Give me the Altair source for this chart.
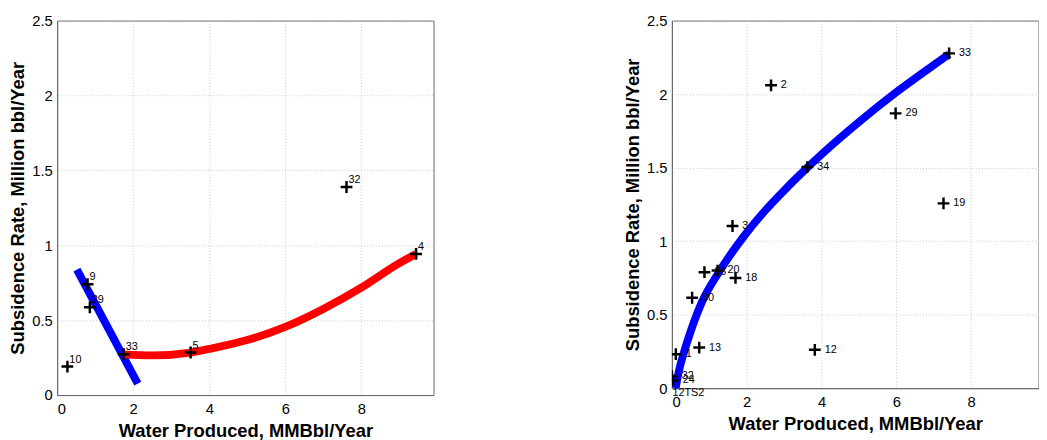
import altair as alt
import pandas as pd

# ---- Left panel data ----
left_x = [0.27, 0.80, 0.86, 1.75, 3.51, 7.61, 9.44]
left_y = [0.19, 0.74, 0.586, 0.273, 0.284, 1.389, 0.942]
left_lab = ["10", "9", "29", "33", "5", "32", "4"]

blue_seg_x = [0.52, 2.12]
blue_seg_y = [0.837, 0.076]

red_x = [1.75, 2.5, 3.51, 4.0, 5.0, 6.0, 7.0, 8.0, 9.0, 9.44]
red_y = [0.272, 0.265, 0.284, 0.308, 0.367, 0.455, 0.575, 0.717, 0.881, 0.942]

# ---- Right panel data ----
right_x = [2.65, 7.41, 5.98, 3.62, 7.26, 1.62, 0.87, 1.22, 1.70, 0.54, 0.73, 3.82, 0.105, 0.0, 0.03, -0.25]
right_y = [2.06, 2.277, 1.869, 1.504, 1.257, 1.103, 0.789, 0.80, 0.75, 0.615, 0.276, 0.261, 0.231, 0.082, 0.053, -0.03]
right_lab = ["2", "33", "29", "34", "19", "3", "26", "20", "18", "30", "13", "12", "1", "32", "24", "12TS2"]

fit_x = [0.10, 0.19, 0.33, 0.52, 0.81, 1.26, 1.93, 2.5, 3.0, 3.62, 4.0, 5.0, 6.0, 7.0, 7.41]
fit_y = [0.0, 0.12, 0.25, 0.40, 0.59, 0.79, 1.035, 1.21, 1.345, 1.50, 1.59, 1.81, 2.013, 2.198, 2.272]

x_ticks = [0, 2, 4, 6, 8]
y_ticks = [0, 0.5, 1, 1.5, 2, 2.5]

X_TITLE = "Water Produced, MMBbl/Year"
Y_TITLE = "Subsidence Rate, Million bbl/Year"

PLUS = "M-1,0L1,0M0,-1L0,1"
FONT = "Liberation Sans"


def make_panel(px, py, plab, xmax, w, h, lines, lab_dx, lab_dy):
    xs = alt.Scale(domain=[0, xmax], nice=False, zero=False)
    ys = alt.Scale(domain=[0, 2.5], nice=False, zero=False)
    xa = alt.Axis(values=x_ticks, title=X_TITLE, labelExpr="'' + datum.value")
    ya = alt.Axis(values=y_ticks, title=Y_TITLE, labelExpr="'' + datum.value")
    pts = pd.DataFrame({"x": px, "y": py, "lab": plab})
    layers = []
    first = True
    for lx, ly, col in lines:
        df = pd.DataFrame({"x": lx, "y": ly})
        if first:
            enc = dict(x=alt.X("x:Q", scale=xs, axis=xa), y=alt.Y("y:Q", scale=ys, axis=ya))
            first = False
        else:
            enc = dict(x=alt.X("x:Q", scale=xs), y=alt.Y("y:Q", scale=ys))
        layers.append(
            alt.Chart(df).mark_line(color=col, strokeWidth=8, interpolate="monotone", strokeCap="butt").encode(**enc)
        )
    base = alt.Chart(pts)
    layers.append(
        base.mark_point(shape=PLUS, size=144, strokeWidth=2.5, filled=False, color="black", opacity=1, clip=True).encode(
            x=alt.X("x:Q", scale=xs), y=alt.Y("y:Q", scale=ys)
        )
    )
    layers.append(
        base.mark_text(align="left", baseline="middle", dx=lab_dx, dy=lab_dy, font=FONT, fontSize=11, color="black").encode(
            x=alt.X("x:Q", scale=xs), y=alt.Y("y:Q", scale=ys), text="lab:N"
        )
    )
    return alt.layer(*layers).properties(width=w, height=h)


left = make_panel(
    left_x, left_y, left_lab, 9.9, 383, 381,
    [(blue_seg_x, blue_seg_y, "#0000ff"), (red_x, red_y, "#ff0000")],
    2, -7,
)
right = make_panel(
    right_x, right_y, right_lab, 9.8, 373, 374,
    [(fit_x, fit_y, "#0000ff")],
    10, 0,
)

chart = (
    alt.hconcat(left, right, spacing=191.5)
    .properties(padding={"left": 0, "top": 1, "right": 0, "bottom": 0})
    .configure_view(stroke="#666", strokeWidth=1)
    .configure_axis(
        labelFont=FONT, labelFontSize=15, labelColor="black", labelPadding=5,
        titleFont=FONT, titleFontSize=18.7, titleFontWeight="bold", titleColor="black", titlePadding=4.5,
        grid=True, gridColor="#c8c8c8", gridDash=[1, 2], gridWidth=1,
        domainColor="#666", ticks=False, tickSize=0,
    )
    .configure_axisX(titlePadding=5, labelPadding=7)
)

chart.save("out.html", embed_options={"renderer": "svg", "actions": False})
